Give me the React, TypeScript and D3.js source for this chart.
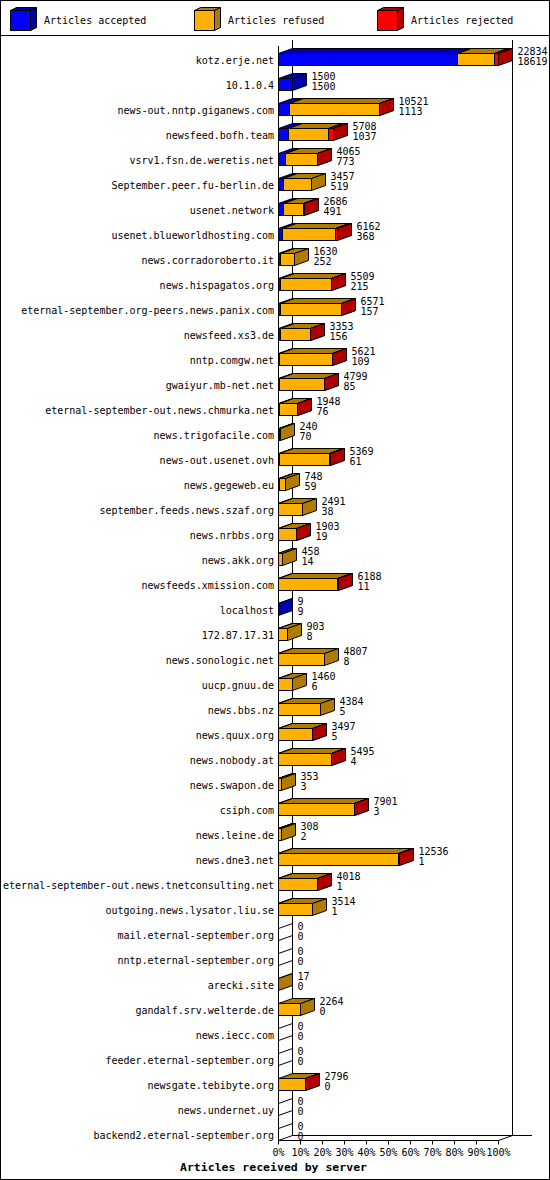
import * as d3 from 'd3'

const hosts = [
  'kotz.erje.net',
  '10.1.0.4',
  'news-out.nntp.giganews.com',
  'newsfeed.bofh.team',
  'vsrv1.fsn.de.weretis.net',
  'September.peer.fu-berlin.de',
  'usenet.network',
  'usenet.blueworldhosting.com',
  'news.corradoroberto.it',
  'news.hispagatos.org',
  'eternal-september.org-peers.news.panix.com',
  'newsfeed.xs3.de',
  'nntp.comgw.net',
  'gwaiyur.mb-net.net',
  'eternal-september-out.news.chmurka.net',
  'news.trigofacile.com',
  'news-out.usenet.ovh',
  'news.gegeweb.eu',
  'september.feeds.news.szaf.org',
  'news.nrbbs.org',
  'news.akk.org',
  'newsfeeds.xmission.com',
  'localhost',
  '172.87.17.31',
  'news.sonologic.net',
  'uucp.gnuu.de',
  'news.bbs.nz',
  'news.quux.org',
  'news.nobody.at',
  'news.swapon.de',
  'csiph.com',
  'news.leine.de',
  'news.dne3.net',
  'eternal-september-out.news.tnetconsulting.net',
  'outgoing.news.lysator.liu.se',
  'mail.eternal-september.org',
  'nntp.eternal-september.org',
  'arecki.site',
  'gandalf.srv.welterde.de',
  'news.iecc.com',
  'feeder.eternal-september.org',
  'newsgate.tebibyte.org',
  'news.undernet.uy',
  'backend2.eternal-september.org',
]

// printed totals (upper number) and accepted (lower number)
const totals = [
  22834, 1500, 10521, 5708, 4065, 3457, 2686, 6162, 1630, 5509, 6571, 3353, 5621, 4799, 1948,
  240, 5369, 748, 2491, 1903, 458, 6188, 9, 903, 4807, 1460, 4384, 3497, 5495, 353, 7901, 308,
  12536, 4018, 3514, 0, 0, 17, 2264, 0, 0, 2796, 0, 0,
]
const accepted = [
  18619, 1500, 1113, 1037, 773, 519, 491, 368, 252, 215, 157, 156, 109, 85, 76,
  70, 61, 59, 38, 19, 14, 11, 9, 8, 8, 6, 5, 5, 4, 3, 3, 2,
  1, 1, 1, 0, 0, 0, 0, 0, 0, 0, 0, 0,
]
// estimated from the bar segments
const refused = [
  3765, 0, 9368, 4151, 3232, 2938, 2145, 5544, 1378, 5254, 6384, 3167, 5482, 4684, 1852,
  170, 5278, 689, 2453, 1864, 444, 6152, 0, 895, 4799, 1454, 4379, 3477, 5471, 350, 7868, 306,
  12495, 3997, 3513, 0, 0, 17, 2264, 0, 0, 2776, 0, 0,
]
const rejected = [
  450, 0, 40, 520, 60, 0, 50, 250, 0, 40, 30, 30, 30, 30, 20,
  0, 30, 0, 0, 20, 0, 25, 0, 0, 0, 0, 0, 15, 20, 0, 30, 0,
  40, 20, 0, 0, 0, 0, 0, 0, 0, 20, 0, 0,
]

const seriesNames = ['Articles accepted', 'Articles refused', 'Articles rejected']
const faceColors = ['#0000ff', '#ffb000', '#ff0000']
const shadeColors = ['#0000b0', '#b07c00', '#b00000']
const tickLabels = ['0%', '10%', '20%', '30%', '40%', '50%', '60%', '70%', '80%', '90%', '100%']

const W = 550
const H = 1180
const DX = 14
const DY = 5
const FONT = '"DejaVu Sans Mono", monospace'

export default function App() {
  const maxTotal = d3.max(totals) ?? 1
  const x = d3.scaleLinear().domain([0, maxTotal]).range([278, 498])
  const px = (v: number) => Math.round(x(v)) + 0.5
  const pct = d3.scaleLinear().domain([0, tickLabels.length - 1]).range([278, 498])
  const y = d3.scaleBand<string>().domain(hosts).range([47, 47 + 25 * hosts.length]).padding(0)
  const legendX = [10, 194, 377]

  const x0 = px(0)
  const floorY = 1140.5

  return (
    <div style={{ position: 'absolute', left: 0, top: 0 }}>
      <svg width={W} height={H} style={{ display: 'block', background: '#fff' }} fontFamily={FONT}>
        <rect x={0.5} y={0.5} width={W - 1} height={H - 1} fill="#fff" stroke="#000" />
        <line x1={0.5} x2={W - 0.5} y1={35.5} y2={35.5} stroke="#000" />

        {/* legend */}
        {seriesNames.map((name, s) => {
          const lx = legendX[s] + 0.5
          const ly = 10.5
          const sz = 20
          return (
            <g key={name}>
              <polygon points={`${lx},${ly} ${lx + 6},${ly - 3} ${lx + sz + 6},${ly - 3} ${lx + sz},${ly}`} fill={shadeColors[s]} stroke="#000" />
              <polygon points={`${lx + sz},${ly} ${lx + sz + 6},${ly - 3} ${lx + sz + 6},${ly + sz - 3} ${lx + sz},${ly + sz}`} fill={shadeColors[s]} stroke="#000" />
              <rect x={lx} y={ly} width={sz} height={sz} fill={faceColors[s]} stroke="#000" />
              <text x={legendX[s] + 34} y={20} fontSize={10} dominantBaseline="central">{name}</text>
            </g>
          )
        })}

        {/* back wall and floor */}
        <line x1={x0 + DX} x2={x0 + DX} y1={40} y2={floorY - DY} stroke="#000" />
        <line x1={px(maxTotal) + DX} x2={px(maxTotal) + DX} y1={40} y2={floorY - DY} stroke="#000" />
        <line x1={x0 + DX} x2={532} y1={floorY - DY} y2={floorY - DY} stroke="#000" />
        <line x1={x0} x2={px(maxTotal)} y1={floorY} y2={floorY} stroke="#000" />
        <line x1={px(maxTotal)} x2={px(maxTotal) + DX} y1={floorY} y2={floorY - DY} stroke="#000" />

        {/* bars */}
        {hosts.map((h, i) => {
          const yc = (y(h) ?? 0) + y.bandwidth() / 2
          const yt = yc - 6
          const yb = yc + 6
          const vals = [accepted[i], refused[i], rejected[i]]
          let acc = 0
          const segs: { s: number; a: number; b: number }[] = []
          vals.forEach((v, s) => {
            if (v <= 0) return
            segs.push({ s, a: px(acc), b: px(acc + v) })
            acc += v
          })
          const end = px(totals[i])
          return (
            <g key={h}>
              {segs.length === 0 && (
                <polygon
                  points={`${x0},${yt} ${x0 + DX},${yt - DY} ${x0 + DX},${yb - DY} ${x0},${yb}`}
                  fill="none"
                  stroke="#000"
                />
              )}
              {segs.map(({ s, a, b }) => (
                <g key={s}>
                  <rect x={a} y={yt} width={b - a} height={yb - yt} fill={faceColors[s]} stroke="#000" />
                  <polygon points={`${a},${yt} ${a + DX},${yt - DY} ${b + DX},${yt - DY} ${b},${yt}`} fill={shadeColors[s]} stroke="#000" />
                  <polygon points={`${b},${yt} ${b + DX},${yt - DY} ${b + DX},${yb - DY} ${b},${yb}`} fill={shadeColors[s]} stroke="#000" />
                </g>
              ))}
              <text x={274} y={yc + 0.5} fontSize={10} textAnchor="end" dominantBaseline="central">{h}</text>
              <text x={end + DX + 5} y={yc - 8.5} fontSize={10} dominantBaseline="central">{totals[i]}</text>
              <text x={end + DX + 5} y={yc + 1.5} fontSize={10} dominantBaseline="central">{accepted[i]}</text>
            </g>
          )
        })}

        {/* front axis */}
        <line x1={x0} x2={x0} y1={46} y2={floorY} stroke="#000" />

        {/* x ticks */}
        {tickLabels.map((t, k) => {
          const tx = Math.round(pct(k)) + 0.5
          return (
            <g key={t}>
              <line x1={tx} x2={tx} y1={floorY} y2={floorY + 4} stroke="#000" />
              <text x={tx} y={1152} fontSize={10} textAnchor="middle" dominantBaseline="central">{t}</text>
            </g>
          )
        })}

        <text x={273.5} y={1167} fontSize={11} fontWeight="bold" textAnchor="middle" dominantBaseline="central" textLength={187} lengthAdjust="spacingAndGlyphs">
          Articles received by server
        </text>
      </svg>
    </div>
  )
}
